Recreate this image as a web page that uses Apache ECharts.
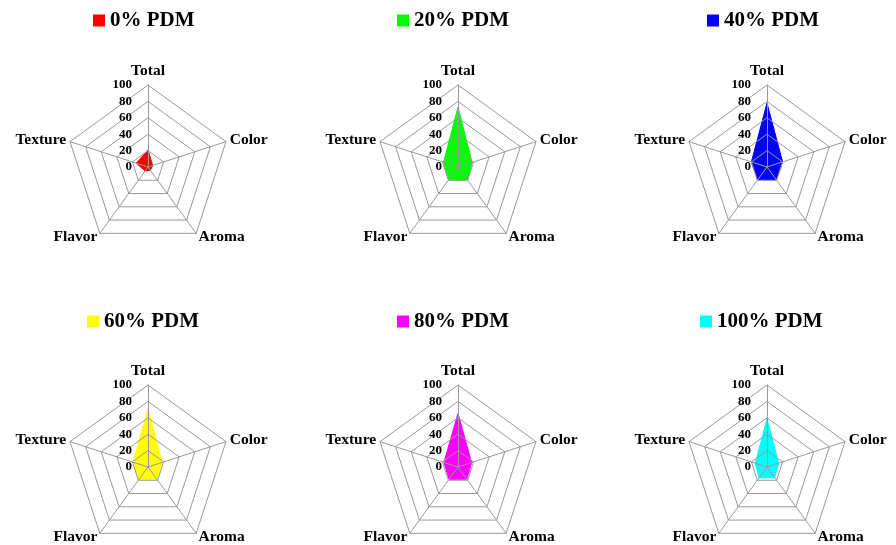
<!DOCTYPE html>
<html><head><meta charset="utf-8">
<script src="https://cdn.jsdelivr.net/npm/echarts@6/dist/echarts.min.js"></script>
<style>html,body{margin:0;padding:0;background:#fff}#c{width:896px;height:545px}</style>
</head><body><div id="c"></div>
<script>
const categories = ['Total', 'Color', 'Aroma', 'Flavor', 'Texture'];
const seriesNames = ['0% PDM', '20% PDM', '40% PDM', '60% PDM', '80% PDM', '100% PDM'];
const pdm0 = [21, 6, 5, 6, 15];
const pdm20 = [73, 18, 20, 19.5, 18.5];
const pdm40 = [78, 20, 19.5, 19.5, 20];
const pdm60 = [71.5, 18, 18.5, 18.5, 19];
const pdm80 = [65.5, 17.5, 18.5, 18.5, 18];
const pdm100 = [59, 15, 16, 16.5, 15];
const tickLabels = [0, 20, 40, 60, 80, 100];
const seriesColors = ['#ff0000', '#00ff00', '#0000ff', '#ffff00', '#ff00ff', '#00ffff'];

const allValues = [pdm0, pdm20, pdm40, pdm60, pdm80, pdm100];
// layout
const centers = [[148, 167], [458, 167], [767, 167], [148, 467], [458, 467], [767, 467]];
const legendPos = [[88, 5], [392, 5], [702, 5], [82, 306], [392, 306], [695, 306]];
const R = 82;
const FONT = '"Liberation Serif", "Times New Roman", serif';

// ECharts radar goes counter-clockwise; reference goes clockwise from top
const ccwOrder = [0, 4, 3, 2, 1];

const radars = [], series = [], legends = [];
centers.forEach((c, i) => {
  radars.push({
    center: c, radius: R, shape: 'polygon', splitNumber: tickLabels.length - 1,
    startAngle: 90, z: 5,
    indicator: ccwOrder.map((k, j) => {
      const ind = { name: categories[k], min: tickLabels[0], max: tickLabels[tickLabels.length - 1] };
      if (j === 0) ind.axisLabel = { show: true };
      return ind;
    }),
    axisName: { color: '#000', fontFamily: FONT, fontWeight: 'bold', fontSize: 15.5 },
    nameGap: 4,
    axisLine: { show: true, lineStyle: { color: '#999', width: 1 } },
    splitLine: { show: true, lineStyle: { color: '#999', width: 1 } },
    splitArea: { show: false },
    axisTick: { show: false },
    axisLabel: { show: false, color: '#000', fontFamily: FONT, fontWeight: 'bold', fontSize: 13, margin: 16 }
  });
  series.push({
    type: 'radar', radarIndex: i, name: seriesNames[i], symbol: 'none', z: 2,
    lineStyle: { color: seriesColors[i], width: 1 },
    itemStyle: { color: seriesColors[i] },
    areaStyle: { color: seriesColors[i], opacity: 1 },
    data: [{ name: seriesNames[i], value: ccwOrder.map(k => allValues[i][k]) }]
  });
  legends.push({
    data: [seriesNames[i]], left: legendPos[i][0], top: legendPos[i][1],
    icon: 'rect', itemWidth: 12, itemHeight: 12, itemGap: 8,
    selectedMode: false,
    textStyle: { fontFamily: FONT, fontWeight: 'bold', fontSize: 21, color: '#000' }
  });
});

const chart = echarts.init(document.getElementById('c'), null, { renderer: 'canvas' });
chart.setOption({
  animation: false,
  backgroundColor: '#fff',
  legend: legends,
  radar: radars,
  series: series
});
</script></body></html>
